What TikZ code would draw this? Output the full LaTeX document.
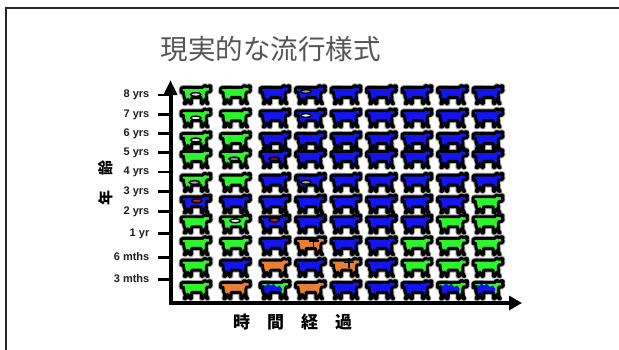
\documentclass[tikz,border=0pt]{standalone}
\usepackage{fontspec}
\setmainfont{Liberation Sans}
\newfontfamily\cjk{Noto Sans CJK JP}
\usetikzlibrary{arrows.meta}

\definecolor{cowg}{RGB}{44,245,44}
\definecolor{cowb}{RGB}{20,20,240}
\definecolor{cowo}{RGB}{232,128,52}
\definecolor{framegray}{RGB}{40,40,40}
\definecolor{titlegray}{RGB}{85,85,85}
\definecolor{tagred}{RGB}{225,20,20}
\definecolor{tagdark}{RGB}{150,10,10}

\tikzset{
  % outline of one cow, 33 x 21 units, origin at the top-left corner
  cowshape/.style={insert path={
    (1.5,8.6) -- (1.6,4.2) -- (3.5,3.4) -- (22.8,3.5) -- (24.5,2.0) -- (25.3,1.5)
    -- (26.9,2.4) -- (28.6,2.4) -- (30.2,1.5) -- (31.6,2.6) -- (30.7,4.3)
    -- (31.6,6.3) -- (30.2,8.0) -- (27.5,8) -- (26.6,10.6) -- (27,16.8)
    -- (28.5,19.6) -- (27.2,19.6) -- (25.2,15.4) -- (23.2,19.6) -- (21.8,19.6)
    -- (21.5,13.4) -- (12.1,13.4) -- (11.8,19.6) -- (10.4,19.6) -- (8.4,15.4)
    -- (6.4,19.6) -- (4.7,19.6) -- (5.6,16.2) -- (4.3,12.2) -- (3.9,8.2)
    -- (3.0,8.7) -- cycle}},
  cowline/.style={draw=black, line width=2.9pt, line join=round},
  pics/cowhalo/.style={code={
    \path[draw=black!35, line width=4.8pt, line join=round, cowshape];}},
  pics/cow/.style={code={
    \path[fill=cow#1, cowline, cowshape];}},
  pics/patch/.style={code={
    \begin{scope}
      \path[clip, cowshape];
      \fill[cowb] (2,9) -- (4,5.5) -- (7,7) -- (9.5,4.5) -- (12.5,6.5) -- (15,4.8)
        -- (18,8) -- (21,6.5) -- (23.5,10) -- (22,15) -- (24,22) -- (0,22) -- cycle;
    \end{scope}
    \path[cowline, cowshape];}},
  pics/tag/.style={code={
    \path[draw=black, line width=1.4pt, fill=#1] (0,0) ellipse [x radius=5.2pt, y radius=1.9pt];}},
  pics/crossmark/.style={code={
    \draw[black, line width=1.5pt] (0,-4.3) -- (0,5.7) (-5,0) -- (5,0);}},
  ticklabel/.style={anchor=east, inner sep=0pt, text height=8pt, text depth=2.4pt,
    font=\fontsize{11}{13}\selectfont\bfseries, text=black!88},
  tickline/.style={black, line width=2.6pt},
  axis/.style={black, line width=4pt, line join=miter,
    {Triangle[length=15pt,width=13pt]}-{Triangle[length=13pt,width=14pt]}},
}

\begin{document}
\begin{tikzpicture}[x=1pt, y=-1pt]
\useasboundingbox (0,0) rectangle (619,349);
\clip (0,0) rectangle (619,349);
\fill[white] (0,0) rectangle (619,349);

% slide frame
\draw[framegray, line width=2pt] (6,360) -- (6,7.5) -- (630,7.5);

% title
\node[text=titlegray, font=\cjk\fontsize{27.5}{30}\selectfont, inner sep=0pt]
  (title) at (270.5,49) {現実的な流行様式};

% herd: row top / colours of the nine columns
\def\herd{84/{g,g,b,b,b,b,b,b,b}, 107.3/{g,g,b,b,b,b,b,b,b},
  130/{g,g,b,b,b,b,b,b,b}, 148/{g,g,b,b,b,b,b,b,b},
  171.7/{g,g,b,b,b,b,b,b,b}, 193.3/{b,b,b,b,b,b,b,b,g},
  213.3/{g,g,b,b,b,b,b,g,g}, 235/{g,g,b,o,b,b,g,g,g},
  256.7/{g,b,o,b,o,b,g,g,g}, 279/{g,o,g,o,b,b,b,g,g}}
\foreach \rowy/\rowcols in \herd {
  \foreach \cowc [count=\i from 0] in \rowcols {
    \pgfmathsetmacro\xl{\i<3 ? 179.6+39.5*\i : 294.1+35.5*(\i-3)}
    \pic at (\xl,\rowy) {cowhalo};
  }
}
\foreach \rowy/\rowcols in \herd {
  \foreach \cowc [count=\i from 0] in \rowcols {
    \pgfmathsetmacro\xl{\i<3 ? 179.6+39.5*\i : 294.1+35.5*(\i-3)}
    \pic at (\xl,\rowy) {cow=\cowc};
  }
}

% two-coloured calves
\pic at (258.6,279) {patch};
\pic at (436.2,279) {patch};
\pic at (471.8,279) {patch};

% ear tags
\pic at (195.8,94.5) {tag=black!12};
\pic at (195.8,118) {tag=white};
\pic at (195.8,140) {tag=black!8};
\pic at (234.2,159) {tag=black!40};
\pic at (274.2,159) {tag=tagdark};
\pic at (194.5,182.5) {tag=black!35};
\pic at (306,91.5) {tag=black!40};
\pic at (306,115.5) {tag=white};
\pic at (306,182.3) {tag=black!35};
\pic at (196.7,200.8) {tag=tagred};
\pic at (235.2,220.8) {tag=white};
\pic at (274.2,220) {tag=tagred};

% deaths
\pic at (313.5,241) {crossmark};
\pic at (349,262.7) {crossmark};

% axes
\coordinate (ytip) at (170.5,80);
\coordinate (origin) at (170.5,303);
\coordinate (xtip) at (522,303);
\draw[axis] (ytip) -- (origin) -- (xtip);

% age ticks and labels
\foreach \yy/\txt [count=\k] in {95/8 yrs, 114.3/7 yrs, 133.3/6 yrs, 152.5/5 yrs,
    171.8/4 yrs, 191.5/3 yrs, 211.2/2 yrs, 233.6/1 yr, 257.4/6 mths, 279.6/3 mths} {
  \node[ticklabel] (lab\k) at (149.5,\yy) {\txt};
  \coordinate (tk\k) at (158.3,\yy);
  \draw[tickline] (tk\k) -- (tk\k -| origin);
}

% axis titles
\node[font=\cjk\fontsize{15}{17}\selectfont\bfseries, rotate=90, inner sep=0pt]
  (ylab) at (105.3,182.5) {年\quad 齢};
\node[font=\cjk\fontsize{17}{19}\selectfont\bfseries, inner sep=0pt]
  (xlab) at (292.5,322.5) {時\quad 間\quad 経\quad 過};
\end{tikzpicture}
\end{document}
